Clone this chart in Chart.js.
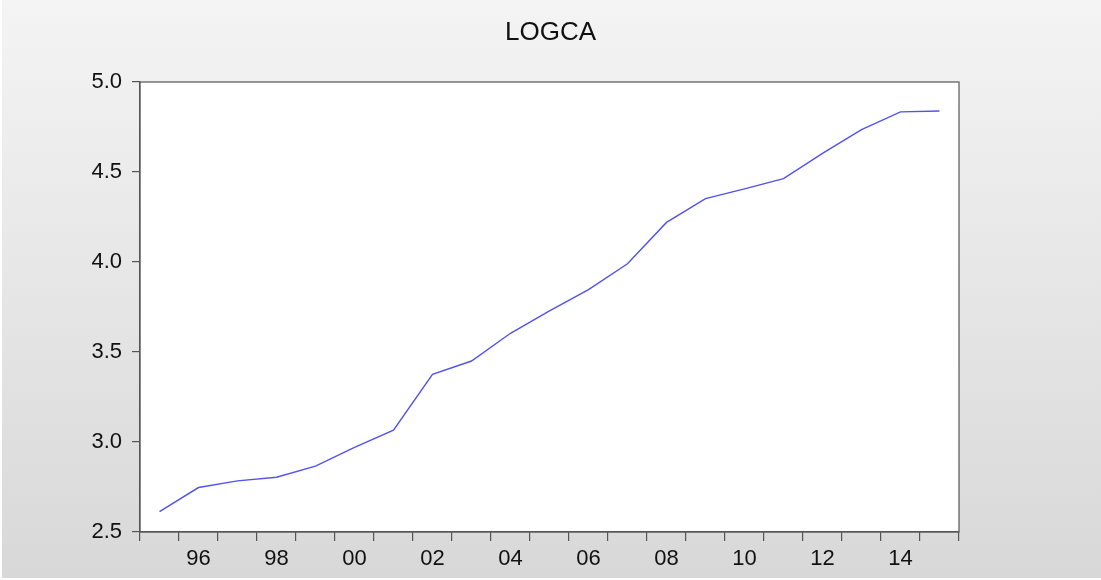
<!DOCTYPE html>
<html>
<head>
<meta charset="utf-8">
<script src="https://cdn.jsdelivr.net/npm/chart.js@4"></script>
<style>
html,body{margin:0;padding:0;background:#fff;}
#wrap{width:1101px;height:580px;position:relative;}
canvas{display:block;}
</style>
</head>
<body>
<div id="wrap"><canvas id="c" width="1101" height="580"></canvas></div>
<script>
const years = ["1995","1996","1997","1998","1999","2000","2001","2002","2003","2004","2005","2006","2007","2008","2009","2010","2011","2012","2013","2014","2015"];
const tickLabels = ["","96","","98","","00","","02","","04","","06","","08","","10","","12","","14",""];
const logca = [2.613,2.747,2.784,2.804,2.866,2.970,3.066,3.376,3.450,3.604,3.729,3.847,3.990,4.220,4.352,4.406,4.463,4.603,4.735,4.834,4.839];
const yTicks = [2.5,3.0,3.5,4.0,4.5,5.0];

const frame = {
  id:'frame',
  beforeDraw(chart){
    const ctx = chart.ctx, W = chart.width, H = chart.height;
    ctx.save();
    ctx.fillStyle = '#ffffff';
    ctx.fillRect(0,0,W,H);
    const g = ctx.createLinearGradient(0,0,0,H);
    g.addColorStop(0,'#f4f4f4');
    g.addColorStop(1,'#d8d8d8');
    ctx.fillStyle = g;
    ctx.fillRect(2,0,W-2,H-2);
    const a = chart.chartArea;
    ctx.fillStyle = '#ffffff';
    ctx.fillRect(a.left,a.top,a.right-a.left,a.bottom-a.top);
    ctx.restore();
  },
  afterDraw(chart){
    const ctx = chart.ctx, a = chart.chartArea;
    ctx.save();
    ctx.strokeStyle = '#555555';
    ctx.lineWidth = 1.2;
    ctx.strokeRect(a.left,a.top,a.right-a.left,a.bottom-a.top);
    ctx.restore();
  }
};

const FONT = '"Liberation Sans", Arial, sans-serif';

new Chart(document.getElementById('c'), {
  type:'line',
  data:{
    labels: years,
    datasets:[{
      label:'LOGCA',
      data: logca,
      borderColor:'#5252ee',
      borderWidth:1.4,
      pointRadius:0,
      tension:0,
      fill:false
    }]
  },
  options:{
    responsive:false,
    animation:false,
    devicePixelRatio:1,
    layout:{padding:{left:0,right:0,top:0,bottom:0}},
    plugins:{
      legend:{display:false},
      tooltip:{enabled:false},
      title:{
        display:true,
        text:'LOGCA',
        color:'#111111',
        font:{family:FONT, size:26, weight:'normal', lineHeight:1.2},
        padding:{top:17,bottom:33.8}
      }
    },
    scales:{
      x:{
        offset:true,
        grid:{offset:true, drawOnChartArea:false, drawTicks:true, tickLength:9, color:'#555555', lineWidth:1.2},
        border:{display:true, color:'#555555', width:1.2},
        ticks:{
          autoSkip:false, maxRotation:0, minRotation:0, padding:5,
          color:'#111111',
          font:{family:FONT, size:22},
          callback:(v,i)=>tickLabels[i]
        },
        afterFit:(s)=>{s.height=48;}
      },
      y:{
        min:2.5, max:5.0,
        afterBuildTicks:(s)=>{s.ticks = yTicks.map(v=>({value:v}));},
        grid:{drawOnChartArea:false, drawTicks:true, tickLength:8, color:'#555555', lineWidth:1.2},
        border:{display:true, color:'#555555', width:1.2},
        ticks:{
          padding:10, color:'#111111',
          font:{family:FONT, size:22},
          callback:(v)=>Number(v).toFixed(1)
        },
        afterFit:(s)=>{s.width=140;}
      },
      yRight:{
        position:'right',
        min:2.5, max:5.0,
        grid:{display:false, drawTicks:false},
        border:{display:false},
        ticks:{display:false},
        afterFit:(s)=>{s.width=142;}
      }
    }
  },
  plugins:[frame]
});
</script>
</body>
</html>
